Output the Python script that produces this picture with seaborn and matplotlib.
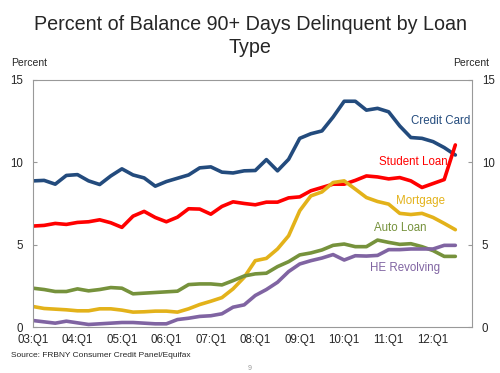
import numpy as np
import pandas as pd
import matplotlib
matplotlib.use("Agg")
import matplotlib.pyplot as plt
import seaborn as sns

# quarters 03:Q1 .. 12:Q3
quarters = [f"{y:02d}:Q{q}" for y in range(3, 13) for q in range(1, 5)][:39]
tick_labels = [f"{y:02d}:Q1" for y in range(3, 13)]

credit_card = [8.87, 8.9, 8.67, 9.2, 9.25, 8.87, 8.65, 9.17, 9.6, 9.23,
               9.05, 8.55, 8.83, 9.03, 9.23, 9.66, 9.72, 9.4, 9.35, 9.48,
               9.5, 10.16, 9.48, 10.18, 11.45, 11.73, 11.9, 12.74, 13.7, 13.7,
               13.16, 13.27, 13.06, 12.2, 11.5, 11.45, 11.25, 10.89, 10.44]
student_loan = [6.13, 6.17, 6.29, 6.23, 6.35, 6.39, 6.51, 6.33, 6.05, 6.73,
                7.02, 6.65, 6.39, 6.67, 7.18, 7.16, 6.85, 7.32, 7.6, 7.5,
                7.42, 7.58, 7.58, 7.84, 7.9, 8.27, 8.47, 8.67, 8.67, 8.9,
                9.17, 9.11, 8.99, 9.07, 8.87, 8.47, 8.71, 8.95, 11.05]
mortgage = [1.25, 1.13, 1.09, 1.05, 0.99, 0.99, 1.11, 1.11, 1.03, 0.91,
            0.93, 0.97, 0.97, 0.91, 1.11, 1.37, 1.57, 1.79, 2.32, 3.02,
            4.03, 4.17, 4.74, 5.54, 7.06, 7.96, 8.2, 8.77, 8.87, 8.37,
            7.86, 7.62, 7.46, 6.9, 6.83, 6.9, 6.65, 6.29, 5.91]
auto_loan = [2.36, 2.28, 2.16, 2.16, 2.32, 2.2, 2.28, 2.4, 2.36, 2.02,
             2.06, 2.1, 2.14, 2.18, 2.58, 2.62, 2.62, 2.56, 2.82, 3.1,
             3.23, 3.27, 3.67, 3.97, 4.38, 4.5, 4.68, 4.96, 5.04, 4.88,
             4.88, 5.28, 5.14, 5.02, 5.06, 4.88, 4.64, 4.29, 4.29]
he_revolving = [0.4, 0.32, 0.24, 0.36, 0.26, 0.16, 0.2, 0.24, 0.28, 0.28,
                0.24, 0.2, 0.2, 0.46, 0.54, 0.65, 0.69, 0.81, 1.21, 1.35,
                1.92, 2.28, 2.72, 3.37, 3.83, 4.03, 4.19, 4.4, 4.07, 4.33,
                4.31, 4.35, 4.7, 4.7, 4.74, 4.74, 4.74, 4.96, 4.96]

series = {
    "Credit Card": credit_card,
    "Student Loan": student_loan,
    "Mortgage": mortgage,
    "Auto Loan": auto_loan,
    "HE Revolving": he_revolving,
}
colors = {
    "Credit Card": "#234B7D",
    "Student Loan": "#FF0000",
    "Mortgage": "#E3B21A",
    "Auto Loan": "#76923C",
    "HE Revolving": "#8064A2",
}
label_pos = {
    "Credit Card": (36.7, 12.5),
    "Student Loan": (34.2, 10.0),
    "Mortgage": (34.9, 7.67),
    "Auto Loan": (33.0, 6.0),
    "HE Revolving": (33.5, 3.6),
}

rows = []
for name, vals in series.items():
    for i, v in enumerate(vals):
        rows.append({"idx": i, "quarter": quarters[i], "type": name, "value": v})
df = pd.DataFrame(rows)

sns.set_style("white")
plt.rcParams["font.family"] = ["Liberation Sans", "DejaVu Sans"]

fig = plt.figure(figsize=(5, 3.73), dpi=100)
ax = fig.add_axes([0.066, 0.123, 0.878, 0.663])

sns.lineplot(data=df, x="idx", y="value", hue="type", palette=colors,
             linewidth=2.6, legend=False, ax=ax)

for name, (x, y) in label_pos.items():
    ax.text(x, y, name, color=colors[name], fontsize=8.3, ha="center", va="center")

ax.set_xlim(0, 39.5)
ax.set_ylim(0, 15)
ax.set_xticks(range(0, 39, 4))
ax.set_xticklabels(tick_labels)
ax.set_yticks([0, 5, 10, 15])
ax.set_xlabel("")
ax.set_ylabel("")
ax.tick_params(axis="x", direction="in", length=3, color="#999999", labelsize=8.3, pad=5)
ax.tick_params(axis="y", direction="in", length=3, color="#999999", labelsize=8.3,
               left=True, right=True, labelleft=True, labelright=True, pad=7)
for s in ax.spines.values():
    s.set_color("#999999")
    s.set_linewidth(0.8)

fig.text(0.5, 0.903, "Percent of Balance 90+ Days Delinquent by Loan\nType",
         ha="center", va="center", fontsize=14.2, linespacing=1.3)
fig.text(0.022, 0.83, "Percent", fontsize=7.5, ha="left", va="center")
fig.text(0.978, 0.83, "Percent", fontsize=7.5, ha="right", va="center")
fig.text(0.022, 0.046, "Source: FRBNY Consumer Credit Panel/Equifax", fontsize=6,
         ha="left", va="center")
fig.text(0.5, 0.013, "9", fontsize=5, color="#999999", ha="center", va="center")

fig.savefig("out.png", dpi=100)
